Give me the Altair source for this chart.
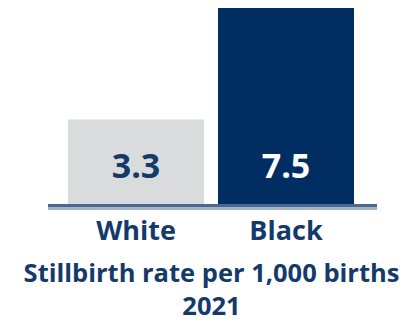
import altair as alt
import pandas as pd

categories = ["White", "Black"]
rates = [3.3, 7.5]
labels = ["3.3", "7.5"]
title_lines = ["Stillbirth rate per 1,000 births", "2021"]

df = pd.DataFrame({"race": categories, "rate": rates, "label": labels})

NAVY = "#002d62"
GREY = "#d9dbdd"
TEXT = "#143a6a"
FONT = "Open Sans"

x = alt.X(
    "race:N",
    sort=categories,
    scale=alt.Scale(range=[60, 346], paddingInner=14 / 150, paddingOuter=0),
    axis=alt.Axis(
        domain=False,
        ticks=False,
        labelAngle=0,
        labelFont=FONT,
        labelFontWeight="bold",
        labelFontSize=27,
        labelColor=TEXT,
        labelPadding=11,
        title=title_lines,
        titleFont=FONT,
        titleFontWeight="bold",
        titleFontSize=25.5,
        titleColor=TEXT,
        titleLineHeight=33,
        titleBaseline="alphabetic",
        titleX=203,
        titleY=74,
    ),
)
y = alt.Y("rate:Q", scale=alt.Scale(domain=[0, 7.5], nice=False, zero=True), axis=None)

bars = alt.Chart(df).mark_bar(size=136).encode(
    x=x,
    y=y,
    color=alt.Color("race:N", scale=alt.Scale(domain=categories, range=[GREY, NAVY]), legend=None),
)

values = alt.Chart(df).mark_text(
    font=FONT, fontWeight="bold", fontSize=34, baseline="alphabetic", dy=-29
).encode(
    x=alt.X("race:N", sort=categories),
    y=alt.datum(0),
    text="label:N",
    color=alt.Color("race:N", scale=alt.Scale(domain=categories, range=[TEXT, "#ffffff"]), legend=None),
)

rule_dark = alt.Chart(df).mark_rule(color="#4a6890", strokeWidth=3, yOffset=-1.5).encode(
    x=alt.value(40), x2=alt.value(369), y=alt.datum(0)
)
rule_light = alt.Chart(df).mark_rule(color="#a3b2c4", strokeWidth=3, yOffset=1.5).encode(
    x=alt.value(40), x2=alt.value(369), y=alt.datum(0)
)

chart = (
    alt.layer(bars, values, rule_dark, rule_light)
    .resolve_scale(color="independent")
    .properties(
        width=394,
        height=199,
        autosize=alt.AutoSizeParams(type="none"),
        padding={"left": 0, "top": 0, "right": 0, "bottom": 115},
    )
    .configure_view(strokeWidth=0)
)

chart.save("out.html", embed_options={"renderer": "svg", "actions": False})
